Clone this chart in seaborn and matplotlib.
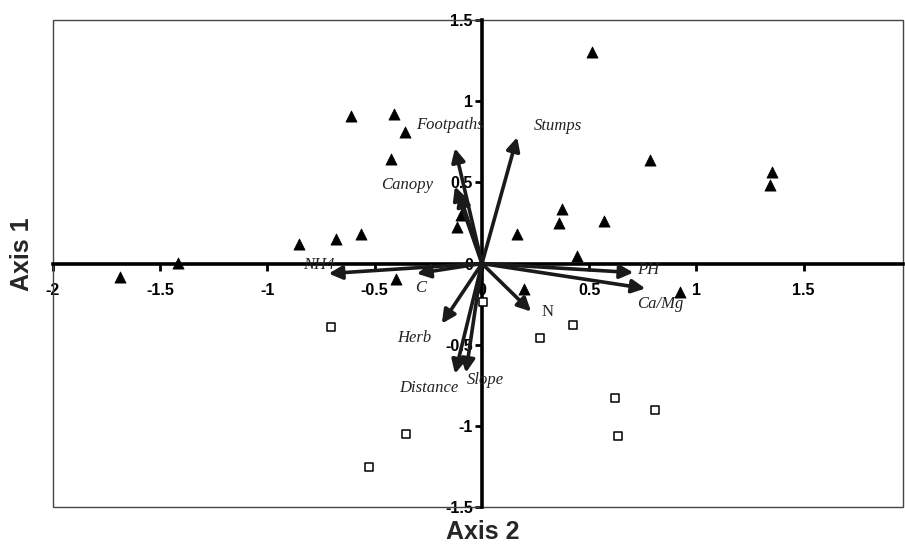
import numpy as np
import pandas as pd
import matplotlib
matplotlib.use("Agg")
import matplotlib.pyplot as plt
import seaborn as sns
from matplotlib.patches import Rectangle

# ---- data ----
tri_x = [-1.687, -1.416, -0.855, -0.682, -0.565, -0.609, -0.410, -0.360, -0.422, -0.403,
         -0.100, -0.118, 0.515, 0.785, 1.352, 1.341, 0.371, 0.357, 0.567, 0.164, 0.445, 0.195, 0.924]
tri_y = [-0.086, 0.005, 0.123, 0.154, 0.179, 0.907, 0.920, 0.809, 0.644, -0.093,
         0.296, 0.222, 1.304, 0.636, 0.564, 0.486, 0.333, 0.249, 0.259, 0.181, 0.045, -0.160, -0.177]

sq_x = [-0.704, 0.006, 0.270, 0.424, 0.621, 0.808, 0.634, -0.355, -0.525]
sq_y = [-0.391, -0.239, -0.459, -0.377, -0.831, -0.901, -1.060, -1.049, -1.253]

vec_names = ["Footpaths", "Canopy", "", "Stumps", "NH4", "C", "Herb", "Distance", "Slope", "N", "PH", "Ca/Mg"]
vec_x = [-0.126, -0.126, -0.107, 0.164, -0.715, -0.304, -0.187, -0.126, -0.075, 0.229, 0.706, 0.762]
vec_y = [0.710, 0.475, 0.438, 0.778, -0.062, -0.062, -0.370, -0.679, -0.673, -0.296, -0.056, -0.154]
lab_x = [-0.308, -0.472, 0.0, 0.243, -0.832, -0.285, -0.397, -0.388, -0.070, 0.304, 0.724, 0.724]
lab_y = [0.852, 0.481, 0.0, 0.846, -0.012, -0.148, -0.457, -0.765, -0.716, -0.296, -0.037, -0.247]
lab_ha = ["left", "left", "left", "left", "left", "center", "left", "left", "left", "center", "left", "left"]
lab_italic = [True, True, True, True, True, True, True, True, True, False, True, True]

x_ticks = [-2, -1.5, -1, -0.5, 0, 0.5, 1, 1.5]
x_ticklabels = ["-2", "-1.5", "-1", "-0.5", "0", "0.5", "1", "1.5"]
y_ticks = [-1.5, -1, -0.5, 0, 0.5, 1, 1.5]
y_ticklabels = ["-1.5", "-1", "-0.5", "0", "0.5", "1", "1.5"]

# ---- plot ----
sns.set_theme(style="white")
plt.rcParams["font.family"] = ["Liberation Sans", "DejaVu Sans"]

fig = plt.figure(figsize=(9.05, 5.47), dpi=100)
ax = fig.add_axes([53 / 905, 1 - 507 / 547, 850 / 905, 487 / 547])

tri_df = pd.DataFrame({"x": tri_x, "y": tri_y})
sq_df = pd.DataFrame({"x": sq_x, "y": sq_y})
sns.scatterplot(data=tri_df, x="x", y="y", marker="^", s=65, color="black",
                edgecolor="black", linewidth=0.5, ax=ax, zorder=3)
sns.scatterplot(data=sq_df, x="x", y="y", marker="s", s=40, color="white",
                edgecolor="black", linewidth=1.1, ax=ax, zorder=3)

for name, vx, vy, tx, ty, ha, it in zip(vec_names, vec_x, vec_y, lab_x, lab_y, lab_ha, lab_italic):
    ax.annotate("", xy=(vx, vy), xytext=(0, 0),
                arrowprops=dict(arrowstyle="-|>", color="#1a1a1a", lw=2.6,
                                mutation_scale=20, shrinkA=0, shrinkB=0),
                zorder=4)
    if name:
        ax.text(tx, ty, name, family=["Liberation Serif", "DejaVu Serif"],
                style="italic" if it else "normal", fontsize=12, ha=ha, va="center",
                color="#222222", zorder=5)

ax.set_xlim(-2, 1.963)
ax.set_ylim(-1.5, 1.5)

for s in ["top", "right"]:
    ax.spines[s].set_visible(False)
ax.spines["left"].set_position(("data", 0))
ax.spines["bottom"].set_position(("data", 0))
ax.spines["left"].set_linewidth(2.6)
ax.spines["bottom"].set_linewidth(2.6)
ax.spines["left"].set_color("black")
ax.spines["bottom"].set_color("black")
ax.spines["left"].set_zorder(2)
ax.spines["bottom"].set_zorder(2)

ax.add_patch(Rectangle((0, 0), 1, 1, transform=ax.transAxes, fill=False,
                       edgecolor="#444444", lw=1.0, zorder=1, clip_on=False))

ax.set_xticks(x_ticks)
ax.set_xticklabels(x_ticklabels, fontweight="bold", fontsize=11.5)
ax.set_yticks(y_ticks)
ax.set_yticklabels(y_ticklabels, fontweight="bold", fontsize=11.5)
ax.tick_params(axis="x", direction="out", length=5, width=2, pad=9, colors="black", bottom=True)
ax.tick_params(axis="y", direction="out", length=5, width=2, pad=1.5, colors="black", left=True)

ax.set_xlabel("Axis 2", fontsize=18, fontweight="bold")
ax.set_ylabel("Axis 1", fontsize=18, fontweight="bold")
ax.xaxis.set_label_coords(0.506, -0.027)
ax.yaxis.set_label_coords(-0.022, 0.52)

fig.savefig("out.png", dpi=100)
